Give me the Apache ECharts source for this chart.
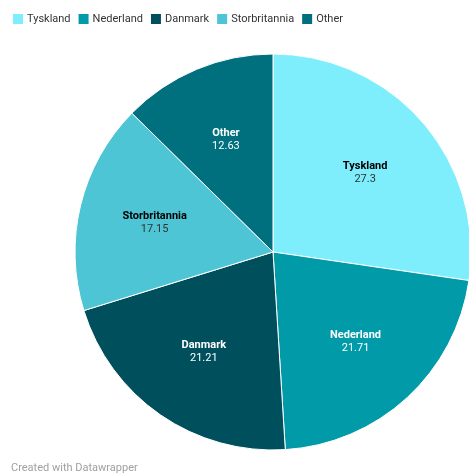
<!DOCTYPE html>
<html>
<head>
<meta charset="utf-8">
<script src="https://cdn.jsdelivr.net/npm/echarts@6/dist/echarts.min.js"></script>
<style>
  html, body { margin: 0; padding: 0; background: #fff; }
  #chart { width: 469px; height: 475px; }
</style>
</head>
<body>
<div id="chart"></div>
<script>
const countries = ['Tyskland', 'Nederland', 'Danmark', 'Storbritannia', 'Other'];
const shares = [27.3, 21.71, 21.21, 17.15, 12.63];
const colors = ['#7eedfc', '#009aa8', '#004f5d', '#4dc5d4', '#00707f'];
// tekstfarge pr. sektor (lys sektor -> mørk tekst)
const darkText = [true, false, false, true, false];

const chart = echarts.init(document.getElementById('chart'));

const pieData = countries.map((name, i) => ({
  name,
  value: shares[i],
  itemStyle: { color: colors[i] }
}));

const labelData = countries.map((name, i) => ({
  name,
  value: shares[i],
  label: {
    rich: {
      n: { fontFamily: 'Roboto', fontSize: 11, fontWeight: 'bold', color: darkText[i] ? '#000' : '#fff', lineHeight: 13 },
      v: { fontFamily: 'Roboto', fontSize: 11, color: darkText[i] ? '#333' : '#fff', lineHeight: 13 }
    }
  }
}));

const option = {
  animation: false,
  textStyle: { fontFamily: 'Roboto' },
  title: {
    text: 'Created with Datawrapper',
    left: 6,
    bottom: -4,
    textStyle: { fontSize: 11, fontWeight: 'normal', color: '#a0a0a0' }
  },
  legend: {
    data: countries,
    left: 6,
    top: 7,
    icon: 'rect',
    itemWidth: 12,
    itemHeight: 12,
    itemGap: 6,
    textStyle: { fontSize: 11, color: '#333', padding: [0, 0, 0, -2] }
  },
  series: [
    {
      type: 'pie',
      center: [273, 252],
      radius: 198,
      startAngle: 90,
      clockwise: true,
      silent: true,
      itemStyle: { borderColor: '#fff', borderWidth: 1 },
      label: { show: false },
      labelLine: { show: false },
      data: pieData
    },
    {
      // usynlig serie bare for å plassere etikettene lenger ut
      type: 'pie',
      center: [273, 252],
      radius: 198 * 1.2,
      startAngle: 90,
      clockwise: true,
      silent: true,
      itemStyle: { color: 'transparent' },
      label: {
        show: true,
        position: 'inside',
        formatter: p => `{n|${p.name}}\n{v|${p.value}}`
      },
      labelLine: { show: false },
      data: labelData
    }
  ]
};

chart.setOption(option);
</script>
</body>
</html>
